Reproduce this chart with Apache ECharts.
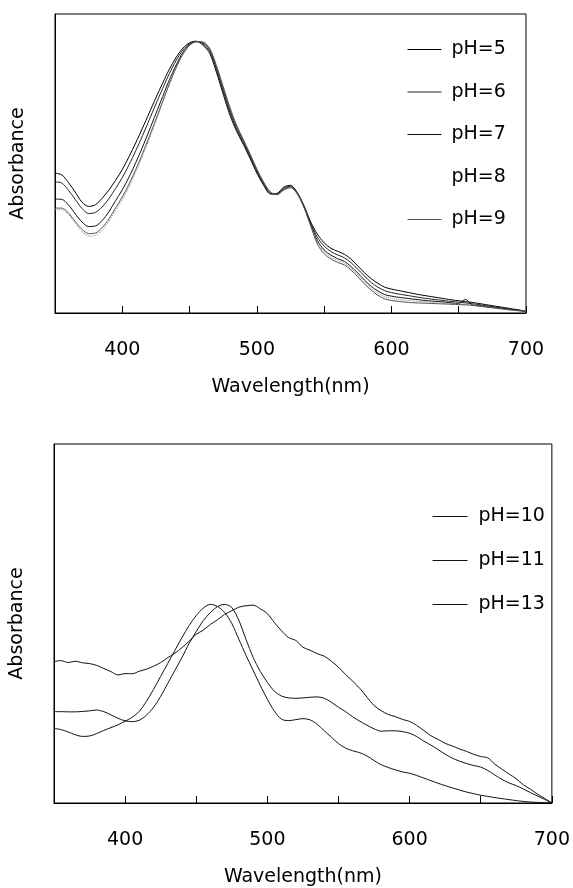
<!DOCTYPE html>
<html><head><meta charset="utf-8">
<script src="https://cdn.jsdelivr.net/npm/echarts@6/dist/echarts.min.js"></script>
<style>html,body{margin:0;padding:0;background:#fff}#c{width:573px;height:888px}</style>
</head><body><div id="c"></div>
<script>
const wavelengths = [
350,355,360,365,370,375,380,385,390,395,
400,405,410,415,420,425,430,435,440,445,
450,455,460,465,470,475,480,485,490,495,
500,505,510,515,520,525,530,535,540,545,
550,555,560,565,570,575,580,585,590,595,
600,605,610,615,620,625,630,635,640,645,
650,655,660,665,670,675,680,685,690,695,
700];
const xTickLabels = [400, 500, 600, 700];

const pH5 = [
.515,.508,.480,.445,.408,.392,.398,.422,.452,.488,
.528,.575,.626,.680,.736,.792,.846,.897,.940,.974,
.994,1.000,.985,.955,.885,.805,.728,.668,.620,.568,
.515,.470,.438,.440,.463,.470,.443,.395,.335,.290,
.258,.238,.227,.216,.198,.173,.148,.126,.109,.095,
.088,.083,.078,.073,.068,.064,.060,.056,.052,.048,
.045,.042,.039,.035,.031,.027,.023,.019,.015,.011,
.006];
const pH6 = [
.482,.478,.452,.418,.385,.366,.370,.390,.420,.458,
.498,.545,.597,.652,.710,.769,.826,.881,.929,.967,
.991,.999,.990,.962,.895,.815,.738,.675,.626,.574,
.520,.474,.440,.438,.459,.467,.442,.393,.330,.278,
.246,.226,.214,.203,.185,.161,.136,.112,.095,.082,
.075,.070,.066,.062,.058,.054,.051,.048,.045,.042,
.040,.037,.034,.031,.027,.024,.020,.016,.013,.010,
.006];
const pH7 = [
.419,.418,.398,.365,.335,.318,.320,.340,.372,.413,
.453,.500,.553,.610,.671,.734,.796,.858,.912,.958,
.987,.998,.994,.968,.903,.825,.748,.684,.632,.580,
.525,.478,.443,.436,.455,.464,.440,.390,.325,.266,
.232,.213,.200,.190,.171,.147,.121,.098,.081,.068,
.062,.058,.055,.052,.049,.046,.044,.042,.040,.037,
.035,.050,.030,.027,.024,.021,.018,.015,.012,.009,
.005];
const pH8 = [
.380,.380,.362,.330,.300,.283,.286,.304,.336,.377,
.417,.464,.518,.577,.639,.705,.773,.839,.899,.950,
.984,.998,.996,.970,.906,.829,.752,.687,.635,.582,
.528,.480,.444,.437,.455,.463,.440,.390,.323,.260,
.226,.206,.193,.183,.164,.140,.114,.091,.073,.060,
.054,.050,.047,.045,.043,.041,.039,.037,.035,.034,
.033,.031,.029,.026,.023,.020,.017,.014,.011,.008,
.005];
const pH9 = [
.386,.386,.368,.337,.308,.292,.294,.314,.346,.387,
.427,.474,.528,.586,.648,.713,.779,.844,.903,.952,
.985,.998,.997,.973,.910,.833,.756,.690,.638,.585,
.530,.482,.446,.435,.452,.461,.438,.388,.320,.253,
.218,.199,.186,.177,.158,.133,.107,.084,.065,.052,
.046,.043,.040,.038,.037,.036,.035,.034,.033,.032,
.031,.030,.028,.025,.022,.019,.016,.013,.010,.008,
.005];

const pH10 = [
.374,.368,.356,.342,.334,.336,.348,.364,.378,.392,
.410,.430,.460,.510,.570,.635,.700,.765,.830,.890,
.940,.978,.996,.985,.955,.900,.820,.740,.665,.590,
.520,.460,.420,.413,.418,.423,.417,.395,.362,.330,
.298,.275,.262,.252,.236,.213,.192,.178,.166,.156,
.149,.138,.125,.112,.099,.087,.076,.065,.055,.047,
.039,.033,.027,.022,.017,.012,.008,.005,.003,.002,
.000];
const pH11 = [
.458,.458,.457,.457,.459,.462,.466,.458,.442,.425,
.412,.408,.415,.440,.480,.535,.600,.665,.730,.800,
.860,.915,.955,.985,.996,.980,.915,.820,.730,.660,
.605,.560,.536,.527,.525,.527,.530,.532,.525,.505,
.480,.458,.432,.410,.390,.372,.360,.362,.362,.358,
.350,.333,.310,.290,.268,.245,.225,.210,.198,.188,
.180,.163,.140,.118,.100,.087,.070,.052,.035,.018,
.000];
const pH13 = [
.709,.714,.704,.711,.703,.699,.690,.674,.659,.642,
.649,.648,.661,.671,.686,.704,.729,.751,.779,.811,
.846,.867,.896,.919,.946,.964,.982,.989,.992,.974,
.949,.904,.863,.829,.815,.781,.766,.749,.736,.711,
.681,.644,.611,.574,.531,.489,.463,.444,.433,.419,
.409,.389,.363,.337,.319,.299,.286,.271,.259,.244,
.233,.226,.194,.169,.145,.121,.091,.069,.044,.023,
.000];

const topNames = ['pH=5','pH=6','pH=7','pH=8','pH=9'];
const topValues = [pH5, pH6, pH7, pH8, pH9];
const topColors = ['#000','#222','#111','#888','#555'];
const bottomNames = ['pH=10','pH=11','pH=13'];
const bottomValues = [pH10, pH11, pH13];
const bottomColors = ['#111','#111','#111'];

const FONT = 'DejaVu Sans';
const pairs = arr => wavelengths.map((w, i) => [w, arr[i]]);

function xAxisFor(gridIndex) {
  return {
    type: 'value', gridIndex, min: 350, max: 700, interval: 50,
    name: 'Wavelength(nm)', nameLocation: 'middle', nameGap: 65,
    nameTextStyle: { fontFamily: FONT, fontSize: 19, color: '#000' },
    axisLine: { show: true, lineStyle: { color: '#000', width: 1 } },
    axisTick: { show: true, inside: true, length: 7, lineStyle: { color: '#000' } },
    axisLabel: {
      margin: 28, fontFamily: FONT, fontSize: 19, color: '#000',
      showMinLabel: true, showMaxLabel: true,
      formatter: v => (xTickLabels.indexOf(v) >= 0 ? String(v) : '')
    },
    splitLine: { show: false }
  };
}
function yAxisFor(gridIndex, max) {
  return {
    type: 'value', gridIndex, min: 0, max,
    name: 'Absorbance', nameLocation: 'middle', nameGap: 27,
    nameTextStyle: { fontFamily: FONT, fontSize: 19, color: '#000' },
    axisLine: { show: true, lineStyle: { color: '#000', width: 1 } },
    axisTick: { show: false }, axisLabel: { show: false }, splitLine: { show: false }
  };
}

const series = [];
topNames.forEach((n, i) => series.push({
  name: n, type: 'line', xAxisIndex: 0, yAxisIndex: 0, data: pairs(topValues[i]),
  symbol: 'none', smooth: 0.3, animation: false,
  lineStyle: { color: topColors[i], width: 1, type: n === 'pH=8' ? 'dotted' : 'solid' },
  itemStyle: { color: topColors[i] }
}));
bottomNames.forEach((n, i) => series.push({
  name: n, type: 'line', xAxisIndex: 1, yAxisIndex: 1, data: pairs(bottomValues[i]),
  symbol: 'none', smooth: 0.3, animation: false,
  lineStyle: { color: bottomColors[i], width: 1 },
  itemStyle: { color: bottomColors[i] }
}));

const chart = echarts.init(document.getElementById('c'), null, { renderer: 'canvas' });
chart.setOption({
  animation: false,
  backgroundColor: '#fff',
  grid: [
    { left: 55, top: 14, width: 471, height: 299, show: true, borderColor: '#000', borderWidth: 1, backgroundColor: 'transparent' },
    { left: 53, top: 444, width: 504, height: 359, show: true, borderColor: '#000', borderWidth: 1, backgroundColor: 'transparent' }
  ],
  xAxis: [xAxisFor(0), xAxisFor(1)],
  yAxis: [yAxisFor(0, 1.1), yAxisFor(1, 1.8)],
  legend: [
    {
      orient: 'vertical', left: 407, top: 40, padding: 0, itemWidth: 34, itemHeight: 20, itemGap: 23.5,
      selectedMode: false,
      itemStyle: { opacity: 0 },
      lineStyle: { width: 1 },
      textStyle: { fontFamily: FONT, fontSize: 19, color: '#000', padding: [0, 0, 0, 5] },
      data: topNames.map(n => n === 'pH=8'
        ? { name: n, lineStyle: { opacity: 0 }, itemStyle: { opacity: 0 } }
        : { name: n })
    },
    {
      orient: 'vertical', left: 432, top: 507, padding: 0, itemWidth: 35, itemHeight: 20, itemGap: 25,
      selectedMode: false,
      itemStyle: { opacity: 0 },
      lineStyle: { width: 1 },
      textStyle: { fontFamily: FONT, fontSize: 19, color: '#000', padding: [0, 0, 0, 6] },
      data: bottomNames
    }
  ],
  series
});
</script>
</body></html>
